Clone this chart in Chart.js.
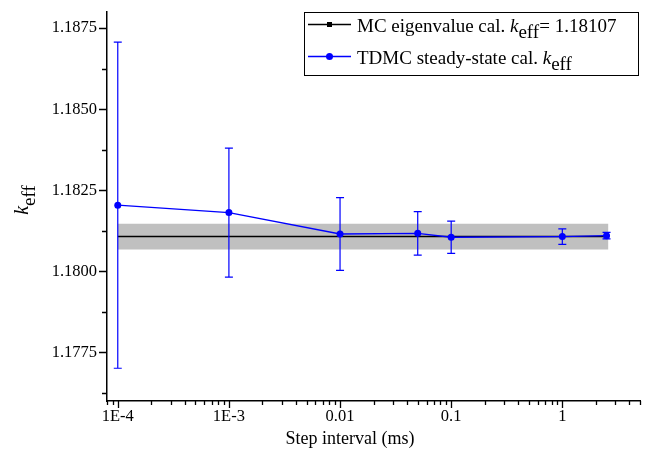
<!DOCTYPE html>
<html>
<head>
<meta charset="utf-8">
<script src="https://cdn.jsdelivr.net/npm/chart.js@4.4.1/dist/chart.umd.min.js"></script>
<style>
  html, body { margin: 0; padding: 0; background: #fff; }
  #wrap { width: 648px; height: 459px; }
</style>
</head>
<body>
<div id="wrap"><canvas id="keffChart" width="648" height="459"></canvas></div>
<script>
'use strict';

// TDMC steady-state runs, one per step interval (ms)
var stepIntervals = [1e-4, 1e-3, 0.01, 0.05, 0.1, 1, 2.5];
var tdmcKeff = [1.18204, 1.18181, 1.18115, 1.18117, 1.18105, 1.18107, 1.18110];
var tdmcErr = [0.00503, 0.00199, 0.00112, 0.00067, 0.00050, 0.00024, 0.00010];

// MC eigenvalue reference value and its uncertainty band
var mcKeff = 1.18107;
var mcBand = 0.0004;
var mcRange = [1e-4, 2.6];

// axes
var xMin = 8e-5, xMax = 5;
var yMin = 1.1760, yMax = 1.1880;
var xMajorTicks = [1e-4, 1e-3, 0.01, 0.1, 1];
var xTickLabels = ['1E-4', '1E-3', '0.01', '0.1', '1'];
var yMajorTicks = [1.1775, 1.1800, 1.1825, 1.1850, 1.1875];
var yMinorTicks = [1.17625, 1.17875, 1.18125, 1.18375, 1.18625];

var BLUE = '#0000ff';
var SERIF = "'Liberation Serif', 'Times New Roman', serif";

// log minor ticks (2..9 in each decade) inside the axis range
var xMinorTicks = [];
for (var e = -5; e <= 0; e++) {
    for (var m = 2; m <= 9; m++) {
        var v = m * Math.pow(10, e);
        if (v >= xMin * 0.999 && v <= xMax * 1.001) xMinorTicks.push(v);
    }
}

function pairs(xs, ys) {
    return xs.map(function (x, i) { return { x: x, y: ys[i] }; });
}

// draws a run of text pieces (font / vertical shift) starting at x
function drawRich(ctx, parts, x, y) {
    parts.forEach(function (p) {
        ctx.font = p.font;
        ctx.fillText(p.t, x, y + (p.dy || 0));
        x += ctx.measureText(p.t).width;
    });
    return x;
}

function richWidth(ctx, parts) {
    var w = 0;
    parts.forEach(function (p) {
        ctx.font = p.font;
        w += ctx.measureText(p.t).width;
    });
    return w;
}

var decor = {
    id: 'decor',

    afterDatasetsDraw: function (chart) {
        var ctx = chart.ctx, xs = chart.scales.x, ys = chart.scales.y;
        ctx.save();
        ctx.strokeStyle = BLUE;
        ctx.lineWidth = 1.2;
        stepIntervals.forEach(function (s, i) {
            var px = xs.getPixelForValue(s);
            var top = ys.getPixelForValue(tdmcKeff[i] + tdmcErr[i]);
            var bot = ys.getPixelForValue(tdmcKeff[i] - tdmcErr[i]);
            ctx.beginPath();
            ctx.moveTo(px, top); ctx.lineTo(px, bot);
            ctx.moveTo(px - 4, top); ctx.lineTo(px + 4, top);
            ctx.moveTo(px - 4, bot); ctx.lineTo(px + 4, bot);
            ctx.stroke();
        });
        ctx.restore();
    },

    afterDraw: function (chart) {
        var ctx = chart.ctx, xs = chart.scales.x, ys = chart.scales.y;
        var area = chart.chartArea;
        ctx.save();

        // tick marks, outward
        ctx.strokeStyle = '#000';
        ctx.lineWidth = 1.3;
        ctx.beginPath();
        yMajorTicks.forEach(function (v) {
            var py = Math.round(ys.getPixelForValue(v)) + 0.5;
            ctx.moveTo(area.left - 8, py); ctx.lineTo(area.left, py);
        });
        yMinorTicks.forEach(function (v) {
            var py = Math.round(ys.getPixelForValue(v)) + 0.5;
            ctx.moveTo(area.left - 5, py); ctx.lineTo(area.left, py);
        });
        xMajorTicks.forEach(function (v) {
            var px = Math.round(xs.getPixelForValue(v)) + 0.5;
            ctx.moveTo(px, area.bottom); ctx.lineTo(px, area.bottom + 7);
        });
        xMinorTicks.forEach(function (v) {
            var px = Math.round(xs.getPixelForValue(v)) + 0.5;
            ctx.moveTo(px, area.bottom); ctx.lineTo(px, area.bottom + 4);
        });
        ctx.stroke();

        ctx.fillStyle = '#000';
        ctx.textBaseline = 'alphabetic';

        // x title
        ctx.font = '18px ' + SERIF;
        ctx.textAlign = 'center';
        ctx.fillText('Step interval (ms)', 350, 444);
        ctx.textAlign = 'left';

        // y title: italic k, subscript eff
        var yParts = [
            { t: 'k', font: 'italic 20px ' + SERIF },
            { t: 'eff', font: '19px ' + SERIF, dy: 7 }
        ];
        ctx.save();
        ctx.translate(28, 200);
        ctx.rotate(-Math.PI / 2);
        drawRich(ctx, yParts, -richWidth(ctx, yParts) / 2, 0);
        ctx.restore();

        // legend box
        var bx = 304, by = 12, bw = 334, bh = 63;
        ctx.lineWidth = 1;
        ctx.strokeRect(bx + 0.5, by + 0.5, bw, bh);

        var rows = [
            { color: '#000', y: 24.5, square: true,
              parts: [
                  { t: 'MC eigenvalue cal. ', font: '19px ' + SERIF },
                  { t: 'k', font: 'italic 19px ' + SERIF },
                  { t: 'eff', font: '19px ' + SERIF, dy: 6 },
                  { t: '= 1.18107', font: '19px ' + SERIF }
              ] },
            { color: BLUE, y: 56.5, square: false,
              parts: [
                  { t: 'TDMC steady-state cal. ', font: '19px ' + SERIF },
                  { t: 'k', font: 'italic 19px ' + SERIF },
                  { t: 'eff', font: '19px ' + SERIF, dy: 6 }
              ] }
        ];
        rows.forEach(function (r) {
            ctx.strokeStyle = r.color;
            ctx.fillStyle = r.color;
            ctx.lineWidth = 1.5;
            ctx.beginPath();
            ctx.moveTo(308, r.y); ctx.lineTo(351, r.y);
            ctx.stroke();
            ctx.beginPath();
            if (r.square) {
                ctx.rect(327, r.y - 2.5, 5, 5);
            } else {
                ctx.arc(329.5, r.y, 3.5, 0, Math.PI * 2);
            }
            ctx.fill();
            ctx.fillStyle = '#000';
            drawRich(ctx, r.parts, 357, r.y + 7);
        });

        ctx.restore();
    }
};

var config = {
    type: 'line',
    data: {
        datasets: [
            {
                label: 'TDMC steady-state cal. keff',
                data: pairs(stepIntervals, tdmcKeff),
                borderColor: BLUE,
                backgroundColor: BLUE,
                borderWidth: 1.3,
                pointRadius: 3.5,
                pointBorderWidth: 0,
                fill: false,
                tension: 0
            },
            {
                label: 'MC eigenvalue cal. keff = 1.18107',
                data: pairs(mcRange, [mcKeff, mcKeff]),
                borderColor: '#000',
                borderWidth: 1.5,
                pointRadius: 0,
                fill: false
            },
            {
                label: 'band high',
                data: pairs(mcRange, [mcKeff + mcBand, mcKeff + mcBand]),
                borderWidth: 0,
                borderColor: 'rgba(0,0,0,0)',
                backgroundColor: '#c0c0c0',
                pointRadius: 0,
                fill: '+1'
            },
            {
                label: 'band low',
                data: pairs(mcRange, [mcKeff - mcBand, mcKeff - mcBand]),
                borderWidth: 0,
                borderColor: 'rgba(0,0,0,0)',
                pointRadius: 0,
                fill: false
            }
        ]
    },
    options: {
        responsive: false,
        animation: false,
        devicePixelRatio: 1,
        layout: { padding: { top: 9, right: 8, left: 0, bottom: 0 } },
        plugins: {
            legend: { display: false },
            tooltip: { enabled: false }
        },
        scales: {
            x: {
                type: 'logarithmic',
                min: xMin,
                max: xMax,
                afterBuildTicks: function (scale) {
                    scale.ticks = xMajorTicks.map(function (v) { return { value: v }; });
                },
                afterFit: function (scale) { scale.height = 58; },
                ticks: {
                    autoSkip: false,
                    maxRotation: 0,
                    padding: 2,
                    color: '#000',
                    font: { family: SERIF, size: 16.5 },
                    callback: function (value) {
                        var i = xMajorTicks.indexOf(value);
                        return i >= 0 ? xTickLabels[i] : '';
                    }
                },
                grid: { drawOnChartArea: false, color: 'rgba(0,0,0,0)', tickLength: 4 },
                border: { display: true, color: '#000', width: 1.5 }
            },
            y: {
                type: 'linear',
                min: yMin,
                max: yMax,
                afterBuildTicks: function (scale) {
                    scale.ticks = yMajorTicks.map(function (v) { return { value: v }; });
                },
                afterFit: function (scale) { scale.width = 107; },
                ticks: {
                    padding: 2,
                    color: '#000',
                    font: { family: SERIF, size: 16.5 },
                    callback: function (value) { return value.toFixed(4); }
                },
                grid: { drawOnChartArea: false, color: 'rgba(0,0,0,0)', tickLength: 8 },
                border: { display: true, color: '#000', width: 1.5 }
            }
        }
    },
    plugins: [decor]
};

new Chart(document.getElementById('keffChart').getContext('2d'), config);
</script>
</body>
</html>
